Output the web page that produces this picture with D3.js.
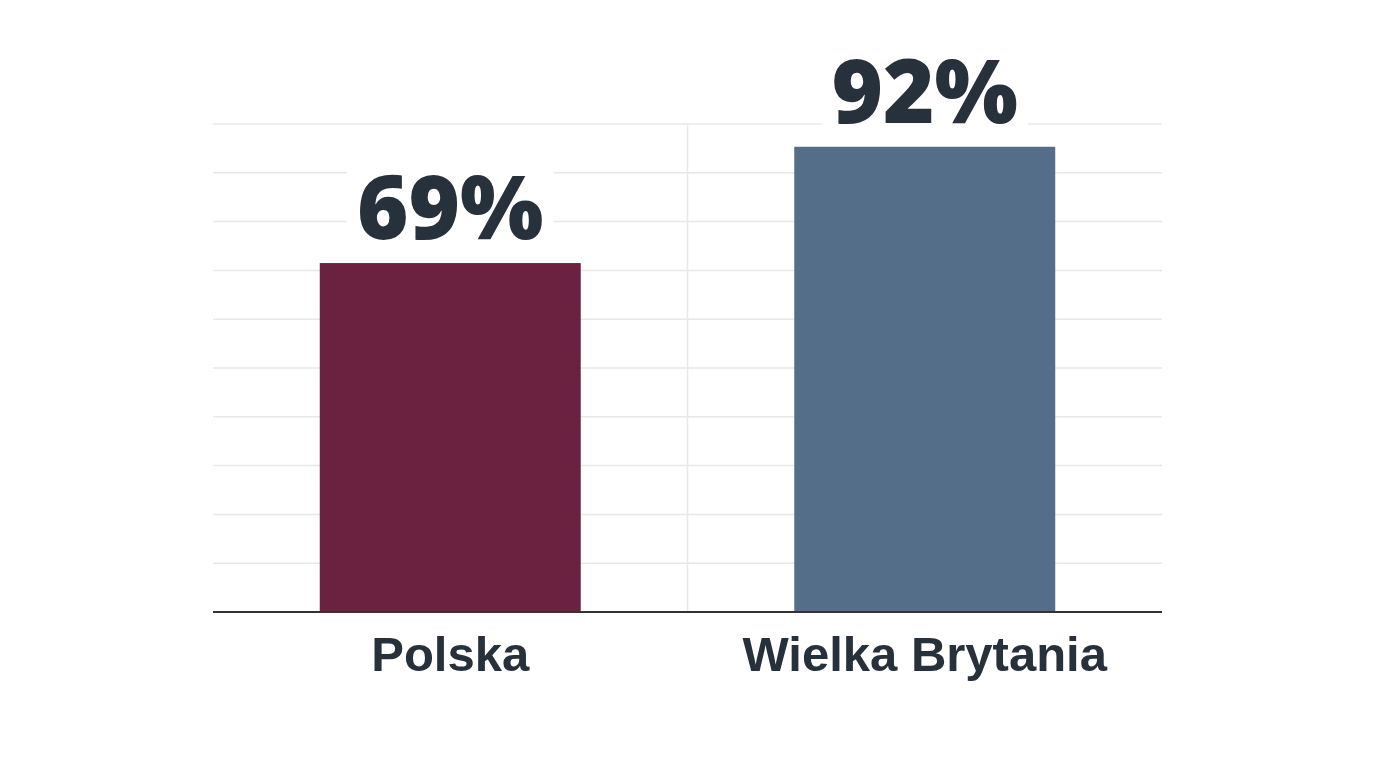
<!DOCTYPE html>
<html lang="pl">
<head>
  <meta charset="UTF-8">
  <title>Polska vs Wielka Brytania</title>
  <style>
      body{
          margin:0;
          background:#fff;
      }
      .grid line{
          stroke:#e8e8e8;
          stroke-width:1.5;
      }
      .value{
          font-family:"Open Sans", Inter, sans-serif;
          font-weight:800;
          font-size:88px;
          fill:#27313c;
      }
      .cat{
          font-family:"Liberation Sans", Arial, sans-serif;
          font-weight:700;
          font-size:49px;
          fill:#27313c;
      }
  </style>
</head>
<body>
    <svg width="1376" height="768"></svg>
    <script src="https://d3js.org/d3.v7.min.js"></script>
    <script>
        // data
        var categories = ["Polska", "Wielka Brytania"];
        var values = [69, 92];
        var colors = ["#6b2140", "#546e89"];

        var svg = d3.select("svg"),
            margin = {top: 124, right: 214, bottom: 156, left: 213},
            width = +svg.attr("width") - margin.left - margin.right,
            height = +svg.attr("height") - margin.top - margin.bottom,
            g = svg.append("g").attr("transform", "translate(" + margin.left + "," + margin.top + ")");

        var x = d3.scaleBand()
            .domain(categories)
            .range([0, width])
            .paddingInner(0.45)
            .paddingOuter(0.225);

        var y = d3.scaleLinear()
            .domain([0, 96.5])
            .range([height, 0]);

        var labelGap = 24;

        // horizontal grid, 10 equal steps up to the top of the plot
        var grid = g.append("g").attr("class", "grid");
        grid.selectAll("line.h")
            .data(d3.range(1, 11))
            .enter().append("line")
            .attr("class", "h")
            .attr("x1", 0)
            .attr("x2", width)
            .attr("y1", function(i) { return height - i * height / 10; })
            .attr("y2", function(i) { return height - i * height / 10; });

        // divider between the two groups
        grid.append("line")
            .attr("x1", width / 2)
            .attr("x2", width / 2)
            .attr("y1", 0)
            .attr("y2", height);

        g.selectAll("rect.bar")
            .data(values)
            .enter().append("rect")
            .attr("class", "bar")
            .attr("x", function(d, i) { return x(categories[i]); })
            .attr("y", function(d) { return y(d); })
            .attr("width", x.bandwidth())
            .attr("height", function(d) { return height - y(d); })
            .attr("fill", function(d, i) { return colors[i]; });

        // baseline
        g.append("line")
            .attr("x1", 0)
            .attr("x2", width)
            .attr("y1", height)
            .attr("y2", height)
            .attr("stroke", "#333")
            .attr("stroke-width", 2);

        // value labels with a white patch behind them
        var labels = g.selectAll("g.lab")
            .data(values)
            .enter().append("g")
            .attr("class", "lab");

        labels.append("rect").attr("fill", "#fff");
        labels.append("text")
            .attr("class", "value")
            .attr("text-anchor", "middle")
            .attr("x", function(d, i) { return x(categories[i]) + x.bandwidth() / 2; })
            .attr("y", function(d) { return y(d) - labelGap; })
            .text(function(d) { return d + "%"; });

        labels.each(function(d) {
            var b = d3.select(this).select("text").node().getBBox();
            var bottom = y(d) - labelGap + 8;
            d3.select(this).select("rect")
                .attr("x", b.x - 10)
                .attr("y", b.y + 8)
                .attr("width", b.width + 20)
                .attr("height", bottom - b.y - 8);
        });

        // category labels
        g.selectAll("text.cat")
            .data(categories)
            .enter().append("text")
            .attr("class", "cat")
            .attr("text-anchor", "middle")
            .attr("x", function(d) { return x(d) + x.bandwidth() / 2; })
            .attr("y", height + 59)
            .text(function(d) { return d; });
    </script>
</body>
</html>
